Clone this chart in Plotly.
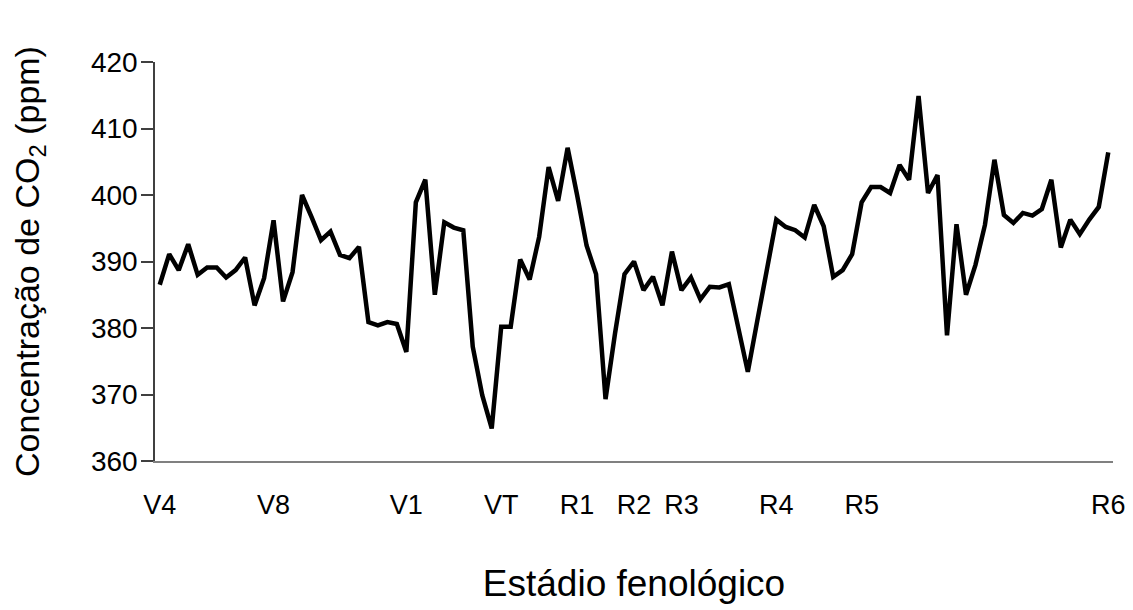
import plotly.graph_objects as go

# CO2 concentration (ppm), one value per observation
co2 = [
    386.5, 391.1, 388.7, 392.6, 388.0, 389.1, 389.1, 387.6, 388.7, 390.6,
    383.4, 387.5, 396.2, 384.0, 388.4, 400.0, 396.7, 393.2, 394.5, 391.0,
    390.5, 392.2, 380.9, 380.4, 380.9, 380.6, 376.4, 398.9, 402.3, 385.0,
    395.9, 395.1, 394.7, 377.2, 369.9, 364.9, 380.2, 380.2, 390.3, 387.3,
    393.7, 404.2, 399.1, 407.1, 400.0, 392.4, 388.1, 369.3, 379.2, 388.1,
    390.0, 385.7, 387.7, 383.4, 391.5, 385.7, 387.6, 384.3, 386.2, 386.1,
    386.6, 380.2, 373.4, 381.1, 389.0, 396.3, 395.2, 394.7, 393.6, 398.5,
    395.3, 387.7, 388.7, 391.1, 398.9, 401.2, 401.2, 400.3, 404.5, 402.3,
    414.9, 400.3, 403.0, 378.9, 395.6, 385.0, 389.5, 395.5, 405.3, 397.0,
    395.8, 397.3, 396.9, 397.9, 402.3, 392.1, 396.3, 394.1, 396.3, 398.2,
    406.4,
]
obs_index = list(range(len(co2)))

# phenological stage labels and the observation they sit under
stage_labels = ["V4", "V8", "V1", "VT", "R1", "R2", "R3", "R4", "R5", "R6"]
stage_index = [0, 12, 26, 36, 44, 50, 55, 65, 74, 100]

y_ticks = [360, 370, 380, 390, 400, 410, 420]

FONT = "Liberation Sans, Arial, sans-serif"

fig = go.Figure(
    go.Scatter(
        x=obs_index,
        y=co2,
        mode="lines",
        line=dict(color="black", width=4.5),
        hoverinfo="y",
    )
)

# the page body adds an 8px margin, so the figure is 8px smaller than the window
fig.update_layout(
    width=1125,
    height=602,
    paper_bgcolor="white",
    plot_bgcolor="white",
    margin=dict(l=147, r=20, t=54, b=149),
    showlegend=False,
    font=dict(family=FONT, color="black"),
)

fig.update_xaxes(
    range=[-0.5, len(co2) - 0.5],
    tickmode="array",
    tickvals=stage_index,
    ticktext=stage_labels,
    ticks="",
    ticklabelstandoff=19,
    tickfont=dict(size=27, family=FONT, color="black"),
    showline=True,
    linecolor="#808080",
    linewidth=2,
    showgrid=False,
    zeroline=False,
    title=dict(text="Estádio fenológico", font=dict(size=37, family=FONT, color="black"), standoff=51),
    automargin=False,
)

fig.update_yaxes(
    range=[360, 420],
    tickmode="array",
    tickvals=y_ticks,
    ticks="outside",
    ticklen=12,
    tickwidth=1.5,
    tickcolor="#404040",
    ticklabelstandoff=-2,
    tickfont=dict(size=28, family=FONT, color="black"),
    showline=True,
    linecolor="#404040",
    linewidth=1.5,
    showgrid=False,
    zeroline=False,
    title=dict(text="Concentração de CO<sub>2</sub> (ppm)", font=dict(size=34, family=FONT, color="black"), standoff=42),
    automargin=False,
)

fig.write_html("out.html")
